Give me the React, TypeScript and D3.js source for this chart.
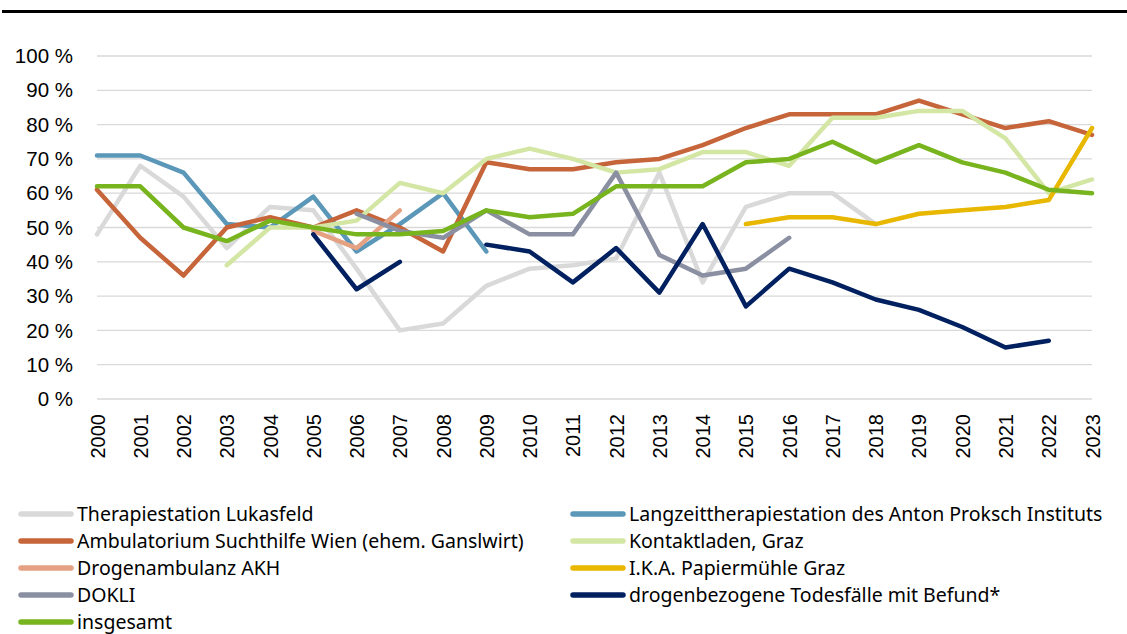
import * as d3 from "d3";

// ---- data ----
const years = d3.range(2000, 2024).map(String);
const yTicks = [0, 10, 20, 30, 40, 50, 60, 70, 80, 90, 100];

type V = number | null;
const _ = null;

const lukasfeld: V[] = [48, 68, 59, 44, 56, 55, 38, 20, 22, 33, 38, 39, 41, 66, 34, 56, 60, 60, 51, _, _, _, _, _];
const langzeit: V[] = [71, 71, 66, 51, 50, 59, 43, 51, 60, 43, _, _, _, _, _, _, _, _, _, _, _, _, _, _];
const ambulatorium: V[] = [61, 47, 36, 50, 53, 50, 55, 50, 43, 69, 67, 67, 69, 70, 74, 79, 83, 83, 83, 87, 83, 79, 81, 77];
const kontaktladen: V[] = [_, _, _, 39, 50, 50, 52, 63, 60, 70, 73, 70, 66, 67, 72, 72, 68, 82, 82, 84, 84, 76, 60, 64];
const akh: V[] = [_, _, _, _, _, 49, 44, 55, _, _, _, _, _, _, _, _, _, _, _, _, _, _, _, _];
const ika: V[] = [_, _, _, _, _, _, _, _, _, _, _, _, _, _, _, 51, 53, 53, 51, 54, 55, 56, 58, 79];
const dokli: V[] = [_, _, _, _, _, _, 54, 49, 47, 55, 48, 48, 66, 42, 36, 38, 47, _, _, _, _, _, _, _];
const todesfaelle: V[] = [_, _, _, _, _, 48, 32, 40, _, 45, 43, 34, 44, 31, 51, 27, 38, 34, 29, 26, 21, 15, 17, _];
const insgesamt: V[] = [62, 62, 50, 46, 52, 50, 48, 48, 49, 55, 53, 54, 62, 62, 62, 69, 70, 75, 69, 74, 69, 66, 61, 60];

// Reihenfolge wie in Excel (Legende zeilenweise)
const seriesNames = [
  "Therapiestation Lukasfeld",
  "Langzeittherapiestation des Anton Proksch Instituts",
  "Ambulatorium Suchthilfe Wien (ehem. Ganslwirt)",
  "Kontaktladen, Graz",
  "Drogenambulanz AKH",
  "I.K.A. Papiermühle Graz",
  "DOKLI",
  "drogenbezogene Todesfälle mit Befund*",
  "insgesamt",
];
const seriesValues = [lukasfeld, langzeit, ambulatorium, kontaktladen, akh, ika, dokli, todesfaelle, insgesamt];
const seriesColors = ["#d9d9d9", "#5b97b8", "#c6643a", "#d4e6a4", "#e5a283", "#e8b700", "#8a90a2", "#002060", "#77b41e"];

export default function App() {
  const width = 1127;
  const height = 634;
  const plot = { left: 97, right: 1092, top: 56, bottom: 399 };

  const x = d3.scalePoint<string>().domain(years).range([plot.left, plot.right]);
  const y = d3.scaleLinear().domain([0, 100]).range([plot.bottom, plot.top]);

  const line = d3
    .line<V>()
    .defined((d) => d != null)
    .x((_d, i) => x(years[i]) as number)
    .y((d) => y(d as number));

  const axisFont = "'Liberation Sans', Arial, sans-serif";
  const legendFont = "'Noto Sans', 'Open Sans', sans-serif";

  // Legende: 2 Spalten, zeilenweise
  const legendCols = [18, 570];
  const legendRow0 = 514;
  const legendRowH = 27;

  return (
    <svg width={width} height={height} style={{ position: "absolute", left: 0, top: 0, background: "#fff" }}>
      {/* obere Linie */}
      <rect x={2} y={10} width={width - 2} height={3} fill="#000" />

      {/* Gitternetz */}
      {yTicks.map((t) => (
        <line key={t} x1={plot.left} x2={plot.right} y1={y(t)} y2={y(t)} stroke="#d9d9d9" strokeWidth={1.3} />
      ))}

      {/* Y-Achse */}
      {yTicks.map((t) => (
        <text key={t} x={73} y={y(t)} dy="0.35em" textAnchor="end" fontFamily={axisFont} fontSize={20.5} fill="#000">
          {t} %
        </text>
      ))}

      {/* X-Achse */}
      {years.map((yr) => (
        <text
          key={yr}
          transform={`translate(${(x(yr) as number) + 7.5},414) rotate(-90)`}
          textAnchor="end"
          fontFamily={axisFont}
          fontSize={20}
          fill="#000"
        >
          {yr}
        </text>
      ))}

      {/* Linien */}
      {seriesValues.map((vals, i) => (
        <path
          key={seriesNames[i]}
          d={line(vals) ?? ""}
          fill="none"
          stroke={seriesColors[i]}
          strokeWidth={4.5}
          strokeLinejoin="round"
          strokeLinecap="round"
        />
      ))}

      {/* Legende */}
      {seriesNames.map((name, i) => {
        const col = i % 2;
        const row = Math.floor(i / 2);
        const lx = legendCols[col];
        const ly = legendRow0 + row * legendRowH;
        return (
          <g key={name}>
            <line x1={lx + 3} x2={lx + 53} y1={ly} y2={ly} stroke={seriesColors[i]} strokeWidth={5.5} strokeLinecap="round" />
            <text x={lx + 59} y={ly} dy="0.35em" fontFamily={legendFont} fontSize={19.5} fill="#000">
              {name}
            </text>
          </g>
        );
      })}
    </svg>
  );
}
